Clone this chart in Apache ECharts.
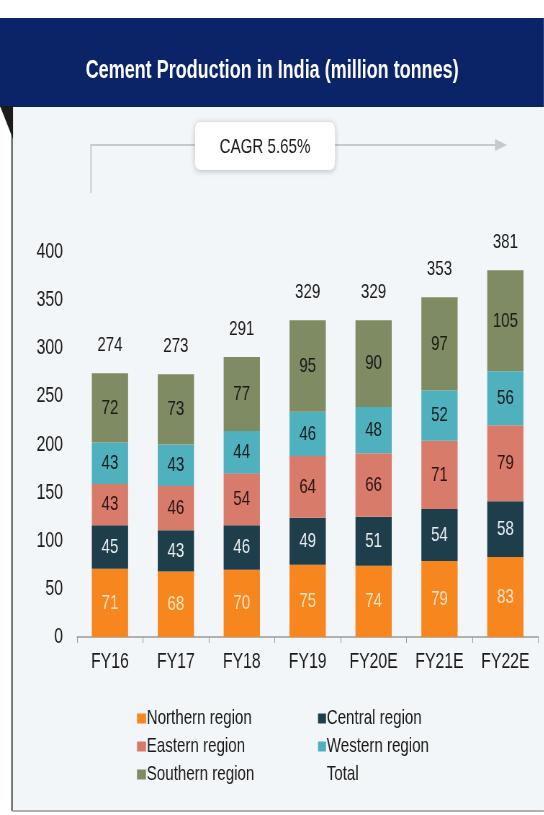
<!DOCTYPE html>
<html>
<head>
<meta charset="utf-8">
<script src="https://cdn.jsdelivr.net/npm/echarts@6/dist/echarts.min.js"></script>
<style>
  html, body { margin: 0; padding: 0; background: #ffffff; overflow: hidden; }
  #chart { width: 756px; height: 815px; transform: scaleX(0.72); transform-origin: 0 0; }
</style>
</head>
<body>
<div id="chart"></div>
<script>
// categories and values
let years = ['FY16', 'FY17', 'FY18', 'FY19', 'FY20E', 'FY21E', 'FY22E']
let northern = [71, 68, 70, 75, 74, 79, 83]
let central = [45, 43, 46, 49, 51, 54, 58]
let eastern = [43, 46, 54, 64, 66, 71, 79]
let western = [43, 43, 44, 46, 48, 52, 56]
let southern = [72, 73, 77, 95, 90, 97, 105]
let totals = [274, 273, 291, 329, 329, 353, 381]
let yTicks = [0, 50, 100, 150, 200, 250, 300, 350, 400]

// the chart is drawn wider and squeezed with css to get narrow type
let sx = 0.72
function X(v) { return v / sx }

let font = "'Liberation Sans', Arial, sans-serif"

function barSeries(name, data, color, labelColor) {
  return {
    name: name,
    type: 'bar',
    stack: 'all',
    barWidth: '55%',
    data: data,
    itemStyle: { color: color },
    label: {
      show: true,
      position: 'inside',
      color: labelColor,
      fontFamily: font,
      fontSize: 21
    }
  }
}

let chartDom = document.getElementById('chart')
let myChart = echarts.init(chartDom)

let legendText = { fontFamily: font, fontSize: 21, color: '#1a1a1a', padding: [0, 0, 0, -4] }

let option = {
  animation: false,
  backgroundColor: '#ffffff',
  title: {
    text: 'Cement Production in India (million tonnes)',
    left: 'center',
    top: 54,
    textStyle: { color: '#ffffff', fontFamily: font, fontWeight: 'bold', fontSize: 25 }
  },
  graphic: [
    { type: 'rect', z: -10, shape: { x: 0, y: 18, width: X(544), height: 89 }, style: { fill: '#0b2467' } },
    { type: 'rect', z: -10, shape: { x: X(12), y: 107, width: X(532), height: 704 }, style: { fill: '#f3f6f8' } },
    { type: 'line', z: -5, shape: { x1: X(12), y1: 107, x2: X(12), y2: 811 }, style: { stroke: '#444', lineWidth: 2 } },
    { type: 'line', z: -5, shape: { x1: X(12), y1: 811, x2: X(544), y2: 811 }, style: { stroke: '#9a9a9a', lineWidth: 1.5 } },
    { type: 'polygon', z: -5, shape: { points: [[0, 106], [X(13), 106], [X(13), 139]] }, style: { fill: '#1c1c1c' } },
    { type: 'polyline', z: -4, shape: { points: [[X(91), 193], [X(91), 145], [X(496), 145]] }, style: { stroke: '#c9c9c9', lineWidth: 2, fill: null } },
    { type: 'polygon', z: -4, shape: { points: [[X(495), 139], [X(507), 145], [X(495), 151]] }, style: { fill: '#c9c9c9' } },
    {
      type: 'rect', z: -3,
      shape: { x: X(195), y: 122, width: X(140), height: 48, r: 7 },
      style: { fill: '#ffffff', shadowBlur: 6, shadowColor: 'rgba(0,0,0,0.25)', shadowOffsetY: 1 }
    },
    {
      type: 'text', z: -2, x: X(265), y: 147,
      style: { text: 'CAGR 5.65%', fill: '#1a1a1a', font: '21px ' + font, align: 'center', verticalAlign: 'middle' }
    }
  ],
  legend: [
    {
      orient: 'vertical', left: X(137), top: 708, padding: 0, itemWidth: X(9), itemHeight: 10, itemGap: 7,
      icon: 'rect',
      textStyle: legendText,
      data: ['Northern region', 'Eastern region', 'Southern region']
    },
    {
      orient: 'vertical', left: X(318), top: 708, padding: 0, itemWidth: X(8), itemHeight: 10, itemGap: 7,
      icon: 'rect',
      textStyle: legendText,
      data: ['Central region', 'Western region', { name: 'Total', icon: 'none' }]
    }
  ],
  grid: { left: X(77), right: X(6), top: 252, bottom: 178, containLabel: false },
  xAxis: {
    type: 'category',
    data: years,
    axisLine: { lineStyle: { color: '#9a9a9a', width: 1.5 } },
    axisTick: { show: true, length: 6, lineStyle: { color: '#9a9a9a' } },
    axisLabel: { interval: 0, color: '#1a1a1a', fontFamily: font, fontSize: 22, margin: 14 }
  },
  yAxis: {
    type: 'value',
    min: yTicks[0],
    max: yTicks[yTicks.length - 1],
    interval: 50,
    axisLine: { show: false },
    axisTick: { show: false },
    splitLine: { show: false },
    axisLabel: { color: '#1a1a1a', fontFamily: font, fontSize: 22, margin: X(14) }
  },
  series: [
    barSeries('Northern region', northern, '#f7861f', '#fde6c4'),
    barSeries('Central region', central, '#1f3e4b', '#e9eef0'),
    barSeries('Eastern region', eastern, '#d97b6b', '#2a1414'),
    barSeries('Western region', western, '#4fb1be', '#1a1a1a'),
    barSeries('Southern region', southern, '#7e8b63', '#1a1a1a'),
    {
      name: 'Total',
      type: 'line',
      data: totals,
      symbol: 'circle',
      symbolSize: 1,
      itemStyle: { color: 'rgba(0,0,0,0)' },
      lineStyle: { opacity: 0 },
      label: {
        show: true,
        position: 'top',
        distance: 17,
        color: '#1a1a1a',
        fontFamily: font,
        fontSize: 21
      }
    }
  ]
}

myChart.setOption(option)
</script>
</body>
</html>
